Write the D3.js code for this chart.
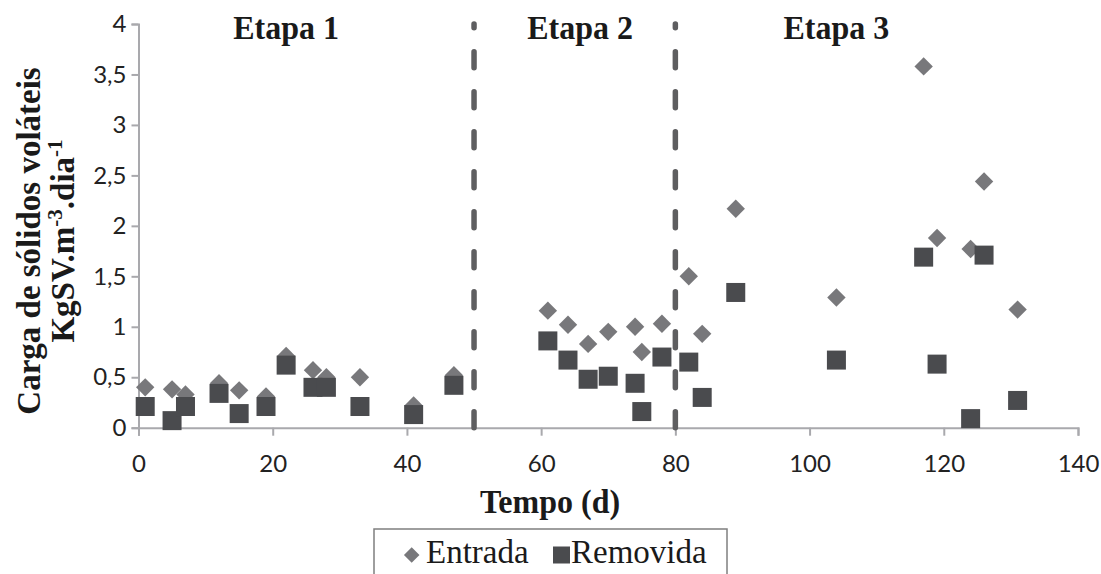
<!DOCTYPE html>
<html>
<head>
<meta charset="utf-8">
<script src="https://cdn.jsdelivr.net/npm/d3@7"></script>
<style>
  html, body { margin: 0; padding: 0; background: #fff; }
  svg { display: block; }
</style>
</head>
<body>
<svg id="chart" width="1101" height="574"></svg>
<script>
// Sampling days and volatile-solids loads (kgSV.m-3.dia-1)
const days      = [1, 5, 7, 12, 15, 19, 22, 26, 28, 33, 41, 47, 61, 64, 67, 70, 74, 75, 78, 82, 84, 89, 104, 117, 119, 124, 126, 131];
const entrada   = [0.40, 0.38, 0.33, 0.44, 0.37, 0.31, 0.71, 0.57, 0.50, 0.50, 0.22, 0.52, 1.16, 1.02, 0.83, 0.95, 1.00, 0.75, 1.03, 1.50, 0.93, 2.17, 1.29, 3.58, 1.88, 1.77, 2.44, 1.17];
const removida  = [0.21, 0.07, 0.21, 0.34, 0.14, 0.21, 0.62, 0.40, 0.40, 0.21, 0.13, 0.42, 0.86, 0.67, 0.48, 0.51, 0.44, 0.16, 0.70, 0.65, 0.30, 1.34, 0.67, 1.69, 0.63, 0.09, 1.71, 0.27];

// Stage boundaries (days) and stage titles
const stageBreaks = [50, 80];
const stageNames  = ["Etapa 1", "Etapa 2", "Etapa 3"];
const stageLabelDay = [22, 65.8, 104];

// Axis ticks
const xTicks = [0, 20, 40, 60, 80, 100, 120, 140];
const yTicks = [0, 0.5, 1, 1.5, 2, 2.5, 3, 3.5, 4];

const svg = d3.select("#chart");
const x = d3.scaleLinear().domain([0, 140]).range([138.5, 1078]);
const y = d3.scaleLinear().domain([0, 4]).range([427.7, 24]);

const AXIS = "#a9a9ad";
const tickFont = "Lato, 'Open Sans', sans-serif";
const serif = "'Liberation Serif', 'Times New Roman', serif";
const fmt = v => String(v).replace(".", ",");

// X axis
const gx = svg.append("g")
  .attr("transform", `translate(0,${y(0)})`)
  .call(d3.axisBottom(x).tickValues(xTicks).tickSize(8).tickPadding(19).tickFormat(d => d));
gx.select(".domain").attr("stroke", AXIS).attr("stroke-width", 2);
gx.selectAll(".tick line").attr("stroke", AXIS).attr("stroke-width", 2);
gx.selectAll(".tick text").attr("fill", "#222").style("font-family", tickFont).style("font-size", "24px");

// Y axis
const gy = svg.append("g")
  .attr("transform", `translate(${x(0)},0)`)
  .call(d3.axisLeft(y).tickValues(yTicks).tickSize(7).tickPadding(5).tickFormat(fmt));
gy.select(".domain").attr("stroke", AXIS).attr("stroke-width", 2);
gy.selectAll(".tick line").attr("stroke", AXIS).attr("stroke-width", 2);
gy.selectAll(".tick text").attr("fill", "#222").style("font-family", tickFont).style("font-size", "24px");

// Stage separators: dashed verticals
svg.append("g").selectAll("line")
  .data(stageBreaks)
  .join("line")
  .attr("x1", d => x(d)).attr("x2", d => x(d))
  .attr("y1", y(0)).attr("y2", y(4))
  .attr("stroke", "#5e5e60")
  .attr("stroke-width", 5.5)
  .attr("stroke-linecap", "round")
  .attr("stroke-dasharray", "16,24");

// Stage titles
svg.append("g").selectAll("text")
  .data(stageNames)
  .join("text")
  .attr("transform", (d, i) => `translate(${x(stageLabelDay[i])},39) scale(1,1.08)`)
  .attr("text-anchor", "middle")
  .style("font-family", serif)
  .style("font-weight", "bold")
  .style("font-size", "32px")
  .attr("fill", "#1a1a1a")
  .text(d => d);

// Series
const rows = days.map((d, i) => ({ day: d, entrada: entrada[i], removida: removida[i] }));
const DIA = 13, SQ = 19;

svg.append("g").selectAll("rect")
  .data(rows)
  .join("rect")
  .attr("x", -DIA / 2).attr("y", -DIA / 2)
  .attr("width", DIA).attr("height", DIA)
  .attr("transform", d => `translate(${x(d.day)},${y(d.entrada)}) rotate(45)`)
  .attr("fill", "#78787b");

svg.append("g").selectAll("rect")
  .data(rows)
  .join("rect")
  .attr("x", d => x(d.day) - SQ / 2)
  .attr("y", d => y(d.removida) - SQ / 2)
  .attr("width", SQ).attr("height", SQ)
  .attr("fill", "#4a4b4e");

// Axis titles
svg.append("text")
  .attr("transform", "translate(550,513) scale(1,1.06)")
  .attr("text-anchor", "middle")
  .style("font-family", serif).style("font-weight", "bold").style("font-size", "32px")
  .attr("fill", "#1a1a1a")
  .text("Tempo (d)");

const yt = svg.append("g").attr("transform", "translate(0,241) rotate(-90)")
  .style("font-family", serif).style("font-weight", "bold").style("font-size", "33px")
  .attr("fill", "#1a1a1a");
yt.append("text").attr("x", 0).attr("y", 40).attr("text-anchor", "middle")
  .text("Carga de sólidos voláteis");
const l2 = yt.append("text").attr("x", 0).attr("y", 74).attr("text-anchor", "middle");
l2.append("tspan").text("KgSV.m");
l2.append("tspan").attr("dy", -12).style("font-size", "21px").text("-3");
l2.append("tspan").attr("dy", 12).text(".dia");
l2.append("tspan").attr("dy", -12).style("font-size", "21px").text("-1");

// Legend
const lg = svg.append("g");
lg.append("rect")
  .attr("x", 374).attr("y", 529).attr("width", 353).attr("height", 80)
  .attr("fill", "none").attr("stroke", "#7f7f7f").attr("stroke-width", 1.5);
lg.append("rect")
  .attr("x", -5.5).attr("y", -5.5).attr("width", 11).attr("height", 11)
  .attr("transform", "translate(411.7,555) rotate(45)")
  .attr("fill", "#78787b");
lg.append("text").attr("x", 426).attr("y", 563)
  .style("font-family", serif).style("font-size", "33px").attr("fill", "#1a1a1a")
  .text("Entrada");
lg.append("rect")
  .attr("x", 553).attr("y", 546.5).attr("width", 17).attr("height", 17)
  .attr("fill", "#4a4b4e");
lg.append("text").attr("x", 571).attr("y", 563)
  .style("font-family", serif).style("font-size", "33px").attr("fill", "#1a1a1a")
  .text("Removida");
</script>
</body>
</html>
